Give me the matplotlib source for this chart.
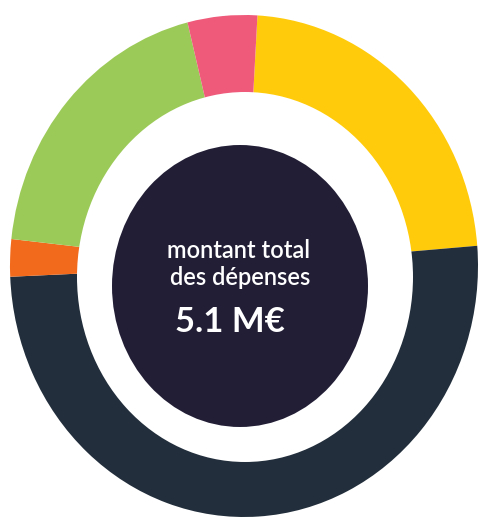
import matplotlib
matplotlib.use("Agg")
import matplotlib.pyplot as plt
from matplotlib.patches import Ellipse

# Répartition des dépenses (% du total), dans l'ordre horaire depuis le haut
postes = ["jaune", "bleu nuit", "orange", "vert", "rose"]
parts = [22.8, 50.6, 2.4, 19.4, 4.8]
couleurs = ["#FFCB0A", "#222E3B", "#F26B1D", "#9CCA58", "#EF5A7B"]

titre = "montant total\ndes dépenses"
total = "5.1 M€"

W, H = 480, 518
fig = plt.figure(figsize=(W / 100, H / 100), dpi=100)
ax = fig.add_axes([0, 0, 1, 1])

# outer ring drawn as a full pie, then stretched to the slightly tall ellipse
ax.pie(parts, colors=couleurs, startangle=86.7, counterclock=False,
       radius=1.0, wedgeprops=dict(linewidth=0))
ax.set_aspect("auto")

# pixel geometry of the reference (ring center / radii)
cx, cy, rx, ry = 244, 266, 234, 251
ax.set_xlim(-cx / rx, (W - cx) / rx)
ax.set_ylim(-(H - cy) / ry, cy / ry)


def px(x, y):
    return (x - cx) / rx, -(y - cy) / ry


# white hole (a bit lower than the ring center)
ax.add_patch(Ellipse(px(245, 277), 2 * 168 / rx, 2 * 185 / ry,
                     facecolor="white", edgecolor="none", zorder=3))
# dark center disc
ax.add_patch(Ellipse(px(240, 286), 2 * 128 / rx, 2 * 141 / ry,
                     facecolor="#221E36", edgecolor="none", zorder=4))

x1, y1 = px(239, 258)
ax.text(x1, y1, titre.split("\n")[0], color="white", fontsize=17,
        fontweight="semibold", family="Lato", ha="center", va="baseline",
        zorder=5)
x2, y2 = px(240, 285)
ax.text(x2, y2, titre.split("\n")[1], color="white", fontsize=17,
        fontweight="semibold", family="Lato", ha="center", va="baseline",
        zorder=5)
x3, y3 = px(175, 332)
ax.text(x3, y3, total, color="white", fontsize=25, fontweight="bold",
        family="Lato", ha="left", va="baseline", zorder=5)

ax.axis("off")
fig.savefig("out.png", dpi=100, facecolor="white")
